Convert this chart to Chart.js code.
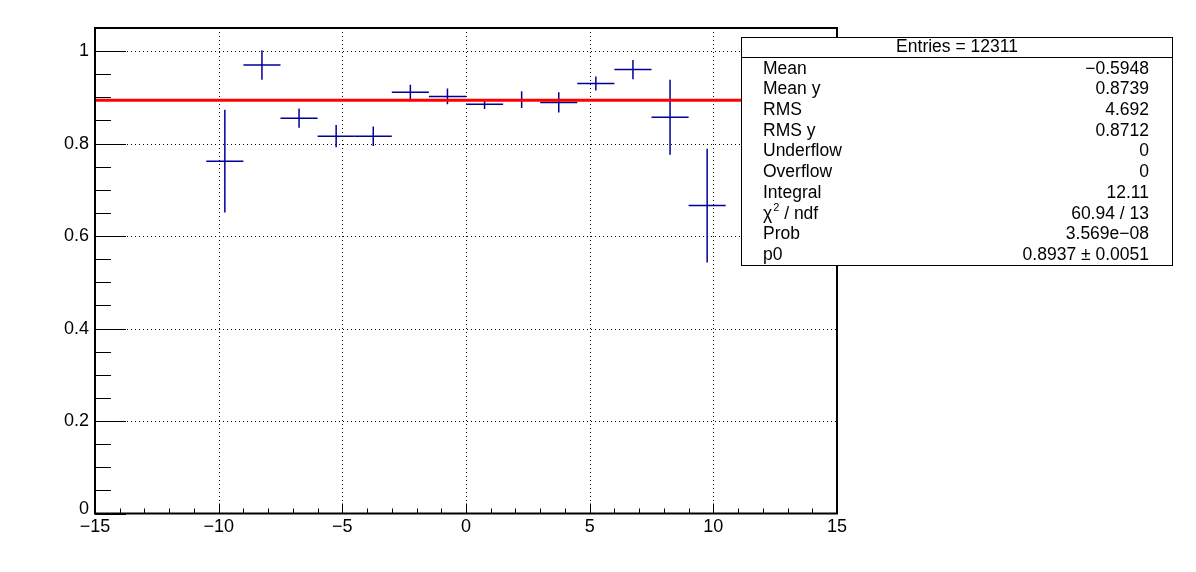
<!DOCTYPE html>
<html>
<head>
<meta charset="utf-8">
<script src="https://cdn.jsdelivr.net/npm/chart.js@4"></script>
<style>
  html, body { margin: 0; padding: 0; background: #fff; }
  #wrap { width: 1196px; height: 572px; }
</style>
</head>
<body>
<div id="wrap"><canvas id="effChart" width="1196" height="572"></canvas></div>
<script>
// histogram bins (centre, value, error)
const binCenters = [-9.75, -8.25, -6.75, -5.25, -3.75, -2.25, -0.75, 0.75, 2.25, 3.75, 5.25, 6.75, 8.25, 9.75];
const binHalfWidth = 0.75;
const binValues = [0.762, 0.970, 0.855, 0.816, 0.816, 0.911, 0.902, 0.885, 0.895, 0.889, 0.930, 0.960, 0.857, 0.666];
const binErrors = [0.111, 0.032, 0.021, 0.024, 0.021, 0.016, 0.017, 0.010, 0.018, 0.022, 0.015, 0.021, 0.081, 0.123];

// constant fit p0
const fitValue = 0.8937;
const fitRange = [-15, 15];

const xTicks = [-15, -10, -5, 0, 5, 10, 15];
const xTickLabels = ['\u221215', '\u221210', '\u22125', '0', '5', '10', '15'];
const yTicks = [0, 0.2, 0.4, 0.6, 0.8, 1];
const yTickLabels = ['0', '0.2', '0.4', '0.6', '0.8', '1'];

const statsHeader = 'Entries = 12311';
const statsLabels = ['Mean', 'Mean y', 'RMS', 'RMS y', 'Underflow', 'Overflow', 'Integral', 'CHI2', 'Prob', 'p0'];
const statsValues = ['\u22120.5948', '0.8739', '4.692', '0.8712', '0', '0', '12.11', '60.94 / 13', '3.569e\u221208', '0.8937 \u00b1 0.0051'];

const FONT = '"Liberation Sans", Arial, Helvetica, sans-serif';
const markerColor = '#000099';

const rootPlot = {
    id: 'rootPlot',
    beforeDatasetsDraw(chart) {
        const ctx = chart.ctx;
        const area = chart.chartArea;
        const xs = chart.scales.x, ys = chart.scales.y;
        ctx.save();
        // dotted grid
        ctx.strokeStyle = '#000';
        ctx.lineWidth = 1;
        ctx.setLineDash([1, 3]);
        xTicks.forEach(v => {
            if (v === xs.min || v === xs.max) return;
            const px = Math.round(xs.getPixelForValue(v)) + 0.5;
            ctx.beginPath(); ctx.moveTo(px, area.top); ctx.lineTo(px, area.bottom); ctx.stroke();
        });
        yTicks.forEach(v => {
            if (v === ys.min) return;
            const py = Math.round(ys.getPixelForValue(v)) + 0.5;
            ctx.beginPath(); ctx.moveTo(area.left, py); ctx.lineTo(area.right, py); ctx.stroke();
        });
        ctx.setLineDash([]);
        // error bars
        ctx.strokeStyle = markerColor;
        ctx.lineWidth = 1.5;
        binCenters.forEach((c, i) => {
            const x0 = xs.getPixelForValue(c - binHalfWidth);
            const x1 = xs.getPixelForValue(c + binHalfWidth);
            const xc = xs.getPixelForValue(c);
            const yc = ys.getPixelForValue(binValues[i]);
            const yt = ys.getPixelForValue(binValues[i] + binErrors[i]);
            const yb = ys.getPixelForValue(binValues[i] - binErrors[i]);
            ctx.beginPath();
            ctx.moveTo(x0, yc); ctx.lineTo(x1, yc);
            ctx.moveTo(xc, yt); ctx.lineTo(xc, yb);
            ctx.stroke();
        });
        ctx.restore();
    },
    afterDraw(chart) {
        const ctx = chart.ctx;
        const area = chart.chartArea;
        const xs = chart.scales.x, ys = chart.scales.y;
        ctx.save();
        ctx.strokeStyle = '#000';
        // ticks (inside the frame)
        ctx.lineWidth = 1;
        ctx.beginPath();
        for (let v = xs.min; v <= xs.max + 1e-9; v += 1) {
            const px = Math.round(xs.getPixelForValue(v)) + 0.5;
            const major = Math.abs(v % 5) < 1e-9;
            ctx.moveTo(px, area.bottom);
            ctx.lineTo(px, area.bottom - (major ? 10 : 5));
        }
        for (let v = ys.min; v <= ys.max + 1e-9; v += 0.05) {
            const py = Math.round(ys.getPixelForValue(v)) + 0.5;
            const major = Math.abs(Math.round(v * 100) % 20) === 0;
            ctx.moveTo(area.left, py);
            ctx.lineTo(area.left + (major ? 31 : 16), py);
        }
        ctx.stroke();
        // frame
        ctx.lineWidth = 2;
        ctx.strokeRect(area.left, area.top, area.right - area.left, area.bottom - area.top);
        // tick labels
        ctx.fillStyle = '#000';
        ctx.font = '18px ' + FONT;
        ctx.textAlign = 'center';
        ctx.textBaseline = 'middle';
        xTicks.forEach((v, i) => {
            ctx.fillText(xTickLabels[i], xs.getPixelForValue(v), area.bottom + 14);
        });
        ctx.textAlign = 'right';
        yTicks.forEach((v, i) => {
            ctx.fillText(yTickLabels[i], area.left - 6, ys.getPixelForValue(v) - (v === 0 ? 4 : 0));
        });
        // stats box
        const bx = 741.5, by = 37.5, bw = 431, bh = 228;
        ctx.fillStyle = '#fff';
        ctx.fillRect(bx, by, bw, bh);
        ctx.lineWidth = 1;
        ctx.strokeRect(bx, by, bw, bh);
        ctx.beginPath(); ctx.moveTo(bx, 57.5); ctx.lineTo(bx + bw, 57.5); ctx.stroke();
        ctx.fillStyle = '#000';
        ctx.font = '17.5px ' + FONT;
        ctx.textAlign = 'center';
        ctx.fillText(statsHeader, bx + bw / 2, 47.5);
        const rowH = 20.7;
        statsLabels.forEach((lab, i) => {
            const yy = 57.5 + rowH * (i + 0.5) + 1;
            ctx.textAlign = 'left';
            if (lab === 'CHI2') {
                ctx.font = '17.5px ' + FONT;
                ctx.fillText('\u03c7', 763, yy);
                const w = ctx.measureText('\u03c7').width;
                ctx.font = '11px ' + FONT;
                ctx.fillText('2', 763 + w + 1, yy - 6);
                const w2 = ctx.measureText('2').width;
                ctx.font = '17.5px ' + FONT;
                ctx.fillText(' / ndf', 763 + w + w2 + 1, yy);
            } else {
                ctx.font = '17.5px ' + FONT;
                ctx.fillText(lab, 763, yy);
            }
            ctx.textAlign = 'right';
            ctx.fillText(statsValues[i], 1149, yy);
        });
        ctx.restore();
    }
};

const ctx = document.getElementById('effChart').getContext('2d');
new Chart(ctx, {
    type: 'scatter',
    data: {
        datasets: [{
            label: 'efficiency',
            data: binCenters.map((c, i) => ({ x: c, y: binValues[i] })),
            pointRadius: 0,
            showLine: false
        }, {
            label: 'fit',
            type: 'line',
            data: fitRange.map(x => ({ x: x, y: fitValue })),
            borderColor: '#ff0000',
            borderWidth: 3,
            pointRadius: 0,
            fill: false
        }]
    },
    plugins: [rootPlot],
    options: {
        responsive: false,
        animation: false,
        layout: { padding: { left: 95, top: 28, right: 359, bottom: 58.5 } },
        plugins: { legend: { display: false }, tooltip: { enabled: false } },
        scales: {
            x: { type: 'linear', min: -15, max: 15, display: false },
            y: { type: 'linear', min: 0, max: 1.05, display: false }
        }
    }
});
</script>
</body>
</html>
